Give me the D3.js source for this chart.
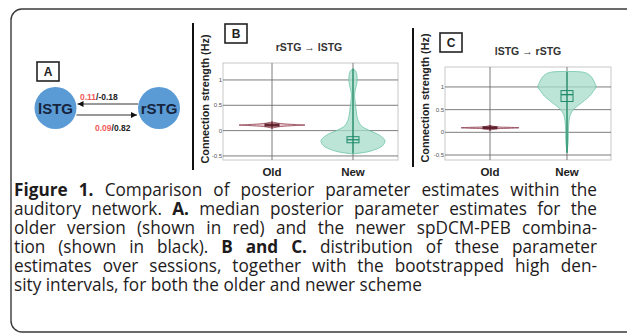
<!DOCTYPE html>
<html>
<head>
<meta charset="utf-8">
<script src="https://cdn.jsdelivr.net/npm/d3@7"></script>
<style>
  body { margin: 0; background: #fff; }
  svg { display: block; }
</style>
</head>
<body>
<div id="chart"></div>
<script>
// panel A: median posterior estimates, old (red) / new (black)
const nodeNames = ["lSTG", "rSTG"]
const edgeOld = [0.11, 0.09]     // rSTG->lSTG, lSTG->rSTG
const edgeNew = [-0.18, 0.82]

// panels B, C
const categories = ["Old", "New"]
const yTicks = [-0.5, 0, 0.5, 1]
const yTickLabels = ["-0.5", "0", "0.5", "1"]
const panelTitles = ["rSTG \u2192 lSTG", "lSTG \u2192 rSTG"]

// violin profiles: value level and relative density
const bOldLevels = [0.05, 0.08, 0.10, 0.11, 0.12, 0.14, 0.17]
const bOldDensity = [0, 0.25, 0.7, 1, 0.7, 0.25, 0]
const bNewLevels = [-0.46, -0.42, -0.36, -0.3, -0.2, -0.1, 0, 0.05, 0.1, 0.2, 0.3, 0.4, 0.5, 0.6, 0.7, 0.8, 0.9, 1.0, 1.1, 1.18, 1.22]
const bNewDensity = [0, 0.45, 0.75, 0.92, 1, 0.85, 0.52, 0.36, 0.25, 0.16, 0.12, 0.1, 0.08, 0.06, 0.05, 0.07, 0.11, 0.13, 0.12, 0.08, 0]
const cOldLevels = [0.05, 0.08, 0.09, 0.10, 0.11, 0.12, 0.15]
const cOldDensity = [0, 0.25, 0.7, 1, 0.7, 0.25, 0]
const cNewLevels = [-0.45, -0.2, 0.1, 0.3, 0.4, 0.5, 0.6, 0.7, 0.8, 0.9, 1.0, 1.1, 1.25, 1.32, 1.34]
const cNewDensity = [0, 0.04, 0.05, 0.08, 0.12, 0.22, 0.4, 0.6, 0.78, 0.9, 1, 0.95, 0.8, 0.6, 0]

// medians, HDI boxes and ranges
const bMedians = [0.11, -0.18]
const bHdi = [[0.09, 0.13], [-0.24, -0.12]]
const bRange = [[0.04, 0.18], [-0.45, 1.22]]
const cMedians = [0.10, 0.83]
const cHdi = [[0.08, 0.12], [0.68, 0.92]]
const cRange = [[0.04, 0.16], [-0.45, 1.33]]

const captionLines = [
  [["Figure 1.", 1], [" Comparison of posterior parameter estimates within the", 0]],
  [["auditory network. ", 0], ["A.", 1], [" median posterior parameter estimates for the", 0]],
  [["older version (shown in red) and the newer spDCM-PEB combina-", 0]],
  [["tion (shown in black). ", 0], ["B and C.", 1], [" distribution of these parameter", 0]],
  [["estimates over sessions, together with the bootstrapped high den-", 0]],
  [["sity intervals, for both the older and newer scheme", 0]]
]

const W = 627, H = 333
const svg = d3.select("#chart").append("svg").attr("width", W).attr("height", H)

// frame
svg.append("rect")
  .attr("x", 11).attr("y", 9).attr("width", 700).attr("height", 323)
  .attr("rx", 11)
  .attr("fill", "none").attr("stroke", "#3a3a3a").attr("stroke-width", 1.4)

const sans = "'Liberation Sans', Arial, sans-serif"

function labelBox(x, y, letter) {
  svg.append("rect").attr("x", x).attr("y", y).attr("width", 22).attr("height", 19)
    .attr("fill", "#fff").attr("stroke", "#222").attr("stroke-width", 1.6)
  svg.append("text").attr("x", x + 11).attr("y", y + 14)
    .attr("text-anchor", "middle").attr("font-family", sans)
    .attr("font-weight", "bold").attr("font-size", 12).attr("fill", "#222")
    .text(letter)
}

// ---- Panel A ----
labelBox(37, 62, "A")

const nodeX = d3.scalePoint().domain(nodeNames).range([55.5, 159])
const nodeY = 108, nodeR = 21

const defs = svg.append("defs")
defs.append("marker").attr("id", "arr")
  .attr("viewBox", "0 0 10 10").attr("refX", 10).attr("refY", 5)
  .attr("markerWidth", 7).attr("markerHeight", 6)
  .attr("markerUnits", "userSpaceOnUse").attr("orient", "auto")
  .append("path").attr("d", "M0,0 L10,5 L0,10 z").attr("fill", "#111")

svg.append("line")
  .attr("x1", nodeX("rSTG") - nodeR).attr("x2", nodeX("lSTG") + nodeR + 1)
  .attr("y1", nodeY - 4).attr("y2", nodeY - 4)
  .attr("stroke", "#333").attr("stroke-width", 1).attr("marker-end", "url(#arr)")
svg.append("line")
  .attr("x1", nodeX("lSTG") + nodeR).attr("x2", nodeX("rSTG") - nodeR - 1)
  .attr("y1", nodeY + 7).attr("y2", nodeY + 7)
  .attr("stroke", "#333").attr("stroke-width", 1).attr("marker-end", "url(#arr)")

svg.selectAll("circle.node").data(nodeNames).join("circle")
  .attr("class", "node")
  .attr("cx", d => nodeX(d)).attr("cy", nodeY).attr("r", nodeR)
  .attr("fill", "#5b9bd5")
svg.selectAll("text.node").data(nodeNames).join("text")
  .attr("class", "node")
  .attr("x", d => nodeX(d)).attr("y", nodeY + 5.5)
  .attr("text-anchor", "middle").attr("font-family", sans)
  .attr("font-weight", "bold").attr("font-size", 15).attr("fill", "#16243d")
  .text(d => d)

const edgeLabelPos = [[80, 100], [95, 131]]
edgeOld.forEach((v, i) => {
  const t = svg.append("text").attr("x", edgeLabelPos[i][0]).attr("y", edgeLabelPos[i][1])
    .attr("font-family", sans).attr("font-weight", "bold").attr("font-size", 8.5)
  t.append("tspan").attr("fill", "#f05a5a").text(v.toFixed(2))
  t.append("tspan").attr("fill", "#222").text("/" + edgeNew[i].toFixed(2))
})

// ---- Panels B, C ----
const panels = [
  { letter: "B", box: [225, 24], axisX: 193, axisY: [23, 170], ylabX: 205, ylabY: 99,
    titleX: 309, titleY: 51, x0: 223, x1: 398, y0: 63, y1: 160, dom: [-0.58, 1.335],
    cat: [272, 353], half: [33, 32],
    violins: [[bOldLevels, bOldDensity], [bNewLevels, bNewDensity]],
    medians: bMedians, hdi: bHdi, range: bRange },
  { letter: "C", box: [440, 33], axisX: 413, axisY: [28, 167], ylabX: 425, ylabY: 98,
    titleX: 528, titleY: 55, x0: 445, x1: 611, y0: 67, y1: 160, dom: [-0.61, 1.44],
    cat: [490, 567], half: [29, 29],
    violins: [[cOldLevels, cOldDensity], [cNewLevels, cNewDensity]],
    medians: cMedians, hdi: cHdi, range: cRange }
]

const fills = ["#e9b9c0", "#a6dccb"]
const strokes = ["#8a3a4c", "#5fbf9f"]
const darks = ["#5a1a26", "#1f8a68"]

panels.forEach((p, pi) => {
  const g = svg.append("g")
  const y = d3.scaleLinear().domain(p.dom).range([p.y1, p.y0])
  const x = d3.scalePoint().domain(categories).range(p.cat)

  g.append("line").attr("x1", p.axisX).attr("x2", p.axisX)
    .attr("y1", p.axisY[0]).attr("y2", p.axisY[1])
    .attr("stroke", "#111").attr("stroke-width", 2)
  g.append("text")
    .attr("transform", `translate(${p.ylabX + 4},${p.ylabY}) rotate(-90)`)
    .attr("text-anchor", "middle").attr("font-family", sans)
    .attr("font-weight", "bold").attr("font-size", 10.8).attr("fill", "#222")
    .text("Connection strength (Hz)")

  g.append("text").attr("x", p.titleX).attr("y", p.titleY)
    .attr("text-anchor", "middle").attr("font-family", sans)
    .attr("font-weight", "bold").attr("font-size", 10.5).attr("fill", "#333")
    .text(panelTitles[pi])

  // frame and grid
  g.append("rect").attr("x", p.x0).attr("y", p.y0)
    .attr("width", p.x1 - p.x0).attr("height", p.y1 - p.y0)
    .attr("fill", "#fff").attr("stroke", "#c8c8c8").attr("stroke-width", 1)
  g.selectAll("line.hg").data(yTicks).join("line").attr("class", "hg")
    .attr("x1", p.x0).attr("x2", p.x1)
    .attr("y1", d => y(d)).attr("y2", d => y(d))
    .attr("stroke", "#6e6e6e").attr("stroke-width", 0.9)
  g.selectAll("line.vg").data(categories).join("line").attr("class", "vg")
    .attr("x1", d => x(d)).attr("x2", d => x(d))
    .attr("y1", p.y0).attr("y2", p.y1)
    .attr("stroke", "#6e6e6e").attr("stroke-width", 0.9)

  g.selectAll("text.tick").data(yTicks).join("text").attr("class", "tick")
    .attr("x", p.x0 - 1).attr("y", d => y(d) + 2)
    .attr("text-anchor", "end").attr("font-family", sans)
    .attr("font-size", 6).attr("fill", "#555")
    .text((d, i) => yTickLabels[i])

  g.selectAll("text.cat").data(categories).join("text").attr("class", "cat")
    .attr("x", d => x(d)).attr("y", 176)
    .attr("text-anchor", "middle").attr("font-family", sans)
    .attr("font-weight", "bold").attr("font-size", 11.5).attr("fill", "#222")
    .text(d => d)

  categories.forEach((c, ci) => {
    const lev = p.violins[ci][0], den = p.violins[ci][1]
    const w = d3.scaleLinear().domain([0, 1]).range([0, p.half[ci]])
    const pts = lev.map((v, k) => ({ v: v, d: den[k] }))
    const area = d3.area()
      .y(d => y(d.v))
      .x0(d => x(c) - w(d.d))
      .x1(d => x(c) + w(d.d))
      .curve(d3.curveCatmullRom)
    g.append("path").attr("d", area(pts))
      .attr("fill", fills[ci]).attr("fill-opacity", 0.75)
      .attr("stroke", strokes[ci]).attr("stroke-width", ci == 0 ? 0.8 : 0.7)

    // range line
    g.append("line").attr("x1", x(c)).attr("x2", x(c))
      .attr("y1", y(p.range[ci][0])).attr("y2", y(p.range[ci][1]))
      .attr("stroke", darks[ci]).attr("stroke-width", 1.3)
    // hdi box
    const hb = ci == 0 ? 7 : 6
    g.append("rect").attr("x", x(c) - hb).attr("width", 2 * hb)
      .attr("y", y(p.hdi[ci][1])).attr("height", y(p.hdi[ci][0]) - y(p.hdi[ci][1]))
      .attr("fill", ci == 0 ? darks[0] : "none").attr("fill-opacity", ci == 0 ? 0.5 : 1)
      .attr("stroke", darks[ci]).attr("stroke-width", 1)
    // median
    g.append("line").attr("x1", x(c) - hb).attr("x2", x(c) + hb)
      .attr("y1", y(p.medians[ci])).attr("y2", y(p.medians[ci]))
      .attr("stroke", darks[ci]).attr("stroke-width", 1.3)
  })

  labelBox(p.box[0], p.box[1], p.letter)
})

// ---- Caption ----
// humanist sans squeezed horizontally to stand in for the narrow journal face
const capFont = "'Open Sans', 'Noto Sans', sans-serif"
const capX = 14, capRight = 597, capTop = 196, capLead = 19
const capSize = 17.5
const lastTarget = 408

const capText = svg.append("g")
const lines = capText.selectAll("text").data(captionLines).join("text")
  .attr("x", 0).attr("y", 0)
  .attr("font-family", capFont).attr("font-size", capSize).attr("fill", "#1e1b1c")
lines.selectAll("tspan").data(d => d).join("tspan")
  .attr("font-weight", d => d[1] ? "bold" : "normal")
  .text(d => d[0])

const lastW = lines.nodes()[5].getComputedTextLength()
const sx = lastTarget / lastW
lines.attr("transform", (d, i) => `translate(${capX},${capTop + i * capLead}) scale(${sx},1)`)

lines.each(function (d, i) {
  if (i == captionLines.length - 1) return
  const txt = d.map(s => s[0]).join("")
  const spaces = (txt.match(/ /g) || []).length
  const nat = this.getComputedTextLength()
  const ws = Math.max(0, ((capRight - capX) / sx - nat) / spaces)
  d3.select(this).attr("word-spacing", ws)
})
</script>
</body>
</html>
